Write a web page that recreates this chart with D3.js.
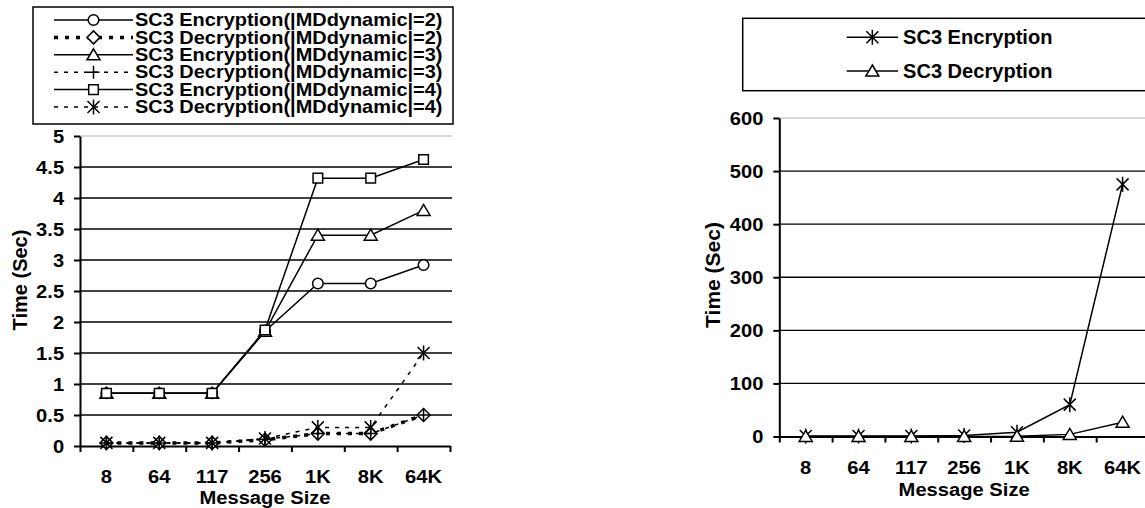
<!DOCTYPE html>
<meta charset="utf-8">
<style type="text/css">
  body { margin: 0; background: #fff; }
  text { font-family: "Liberation Sans", Arial, sans-serif; font-weight: bold; fill: #000; }
  .grid line { stroke: #000; stroke-width: 1.3px; }
  .axis path, .axis line { stroke: #000; stroke-width: 2px; }
</style>
<body>
<script src="https://d3js.org/d3.v7.min.js"></script>
<script>

// message sizes on the x axis (both charts)
var sizes = ["8", "64", "117", "256", "1K", "8K", "64K"];

// left chart, seconds
var enc2 = [0.85, 0.85, 0.85, 1.85, 2.62, 2.62, 2.92];
var dec2 = [0.05, 0.05, 0.05, 0.10, 0.20, 0.20, 0.50];
var enc3 = [0.85, 0.85, 0.85, 1.85, 3.40, 3.40, 3.80];
var dec3 = [0.05, 0.05, 0.05, 0.11, 0.20, 0.20, 0.50];
var enc4 = [0.85, 0.85, 0.85, 1.87, 4.32, 4.32, 4.62];
var dec4 = [0.05, 0.05, 0.05, 0.12, 0.30, 0.30, 1.50];
var leftTicks = [0, 0.5, 1, 1.5, 2, 2.5, 3, 3.5, 4, 4.5, 5];

// right chart, seconds
var encAll = [0.9, 0.9, 0.9, 2, 8, 60, 475];
var decAll = [0.05, 0.05, 0.05, 0.15, 0.5, 4, 27];
var rightTicks = [0, 100, 200, 300, 400, 500, 600];

var width = 1145, height = 508;
var SX = 1.06; // the original picture is stretched sideways a little

var marks = {
  circle: d3.symbol(d3.symbolCircle, 88)(),
  square: "M-4.8,-4.8H4.8V4.8H-4.8Z",
  triangle: "M0,-6L6.5,5L-6.5,5Z",
  diamond: "M0,-6.5L6.5,0L0,6.5L-6.5,0Z",
  plus: "M-6,0H6M0,-6.5V6.5",
  star: "M-6,-6L6,6M-6,6L6,-6M0,-7.5V7.5"
};

var svg = d3.select("body").append("svg")
    .attr("width", width)
    .attr("height", height);

function drawChart(opt) {
  var g = svg.append("g");

  var x = d3.scaleBand().domain(sizes).range(opt.xr);
  var y = d3.scaleLinear().domain(opt.yd).range(opt.yr);
  var edges = d3.scaleLinear().domain([0, sizes.length]).range(opt.xr);

  // gridlines, the top one is grey
  g.append("g").attr("class", "grid")
    .selectAll("line")
    .data(opt.ticks.slice(1))
    .enter().append("line")
      .attr("x1", opt.xr[0]).attr("x2", opt.xr[1] + 2)
      .attr("y1", function(d) { return y(d); })
      .attr("y2", function(d) { return y(d); })
      .style("stroke", function(d, i) { return i == opt.ticks.length - 2 ? "#c8c8c8" : "#000"; });

  // y axis
  var ya = g.append("g").attr("class", "axis")
    .attr("transform", "translate(" + opt.xr[0] + ",0)")
    .call(d3.axisLeft(y).tickValues(opt.ticks).tickFormat(d3.format("~g"))
      .tickSize(6).tickSizeOuter(0).tickPadding(9));
  ya.selectAll("text")
    .style("font-size", "19px")
    .attr("transform", "scale(" + SX + ",1)");

  // x axis line with tick marks between categories
  g.append("g").attr("class", "axis")
    .attr("transform", "translate(0," + opt.yr[0] + ")")
    .call(d3.axisBottom(edges).ticks(sizes.length).tickFormat("").tickSize(6).tickSizeOuter(0));

  var xa = g.append("g").attr("class", "axis")
    .attr("transform", "translate(0," + opt.yr[0] + ")")
    .call(d3.axisBottom(x).tickSize(0).tickPadding(opt.xpad));
  xa.select(".domain").remove();
  xa.selectAll("text")
    .style("font-size", "18px")
    .attr("transform", "scale(1.12,1)");

  // axis titles
  g.append("text")
    .attr("transform", "translate(" + ((opt.xr[0] + opt.xr[1]) / 2) + "," + opt.titleY + ") scale(1.09,1)")
    .attr("text-anchor", "middle")
    .style("font-size", "18.5px")
    .text("Message Size");
  g.append("text")
    .attr("transform", "translate(" + opt.ytitleX + "," + opt.ytitleY + ") rotate(-90)")
    .attr("text-anchor", "middle")
    .style("font-size", opt.ytitleFont + "px")
    .text("Time (Sec)");

  var line = d3.line()
    .x(function(d, i) { return x(sizes[i]) + x.bandwidth() / 2; })
    .y(function(d) { return y(d); });

  opt.series.forEach(function(s) {
    g.append("path")
      .attr("d", line(s.values))
      .attr("fill", "none")
      .attr("stroke", "#000")
      .attr("stroke-width", s.width)
      .attr("stroke-dasharray", s.dash);
    g.selectAll(null)
      .data(s.values)
      .enter().append("path")
        .attr("transform", function(d, i) {
          return "translate(" + (x(sizes[i]) + x.bandwidth() / 2) + "," + y(d) + ")";
        })
        .attr("d", marks[s.mark])
        .attr("fill", "#fff")
        .attr("stroke", "#000")
        .attr("stroke-width", 1.5);
  });

  // legend
  var L = opt.legend;
  g.append("rect")
    .attr("x", L.x).attr("y", L.y)
    .attr("width", L.w).attr("height", L.h)
    .attr("fill", "#fff")
    .attr("stroke", "#000")
    .attr("stroke-width", 1.5);
  opt.series.forEach(function(s, i) {
    var ry = L.row0 + i * L.step;
    g.append("line")
      .attr("x1", L.l1).attr("x2", L.l2)
      .attr("y1", ry).attr("y2", ry)
      .attr("stroke", "#000")
      .attr("stroke-width", s.width)
      .attr("stroke-dasharray", s.dash);
    g.append("path")
      .attr("transform", "translate(" + ((L.l1 + L.l2) / 2) + "," + ry + ")")
      .attr("d", marks[s.mark])
      .attr("fill", "#fff")
      .attr("stroke", "#000")
      .attr("stroke-width", 1.5);
    g.append("text")
      .attr("transform", "translate(" + L.tx + "," + (ry + L.base) + ") scale(" + L.sx + ",1)")
      .style("font-size", L.font + "px")
      .text(s.name);
  });
}

drawChart({
  xr: [80, 450], yr: [446, 136], yd: [0, 5], ticks: leftTicks,
  xpad: 24, titleY: 503.5, ytitleX: 27, ytitleY: 280, ytitleFont: 20,
  series: [
    {name: "SC3 Encryption(|MDdynamic|=2)", values: enc2, mark: "circle", width: 1.5, dash: null},
    {name: "SC3 Decryption(|MDdynamic|=2)", values: dec2, mark: "diamond", width: 3.5, dash: "4,7"},
    {name: "SC3 Encryption(|MDdynamic|=3)", values: enc3, mark: "triangle", width: 1.5, dash: null},
    {name: "SC3 Decryption(|MDdynamic|=3)", values: dec3, mark: "plus", width: 1.5, dash: "4,6"},
    {name: "SC3 Encryption(|MDdynamic|=4)", values: enc4, mark: "square", width: 1.5, dash: null},
    {name: "SC3 Decryption(|MDdynamic|=4)", values: dec4, mark: "star", width: 1.5, dash: "4,6"}
  ],
  legend: {x: 33, y: 7, w: 420, h: 117, row0: 20, step: 17.4,
           l1: 54, l2: 133, tx: 135, base: 6.2, font: 17.5, sx: 1.14}
});

drawChart({
  xr: [779.3, 1149], yr: [436.5, 118], yd: [0, 600], ticks: rightTicks,
  xpad: 24.7, titleY: 496.2, ytitleX: 720, ytitleY: 275, ytitleFont: 21,
  series: [
    {name: "SC3 Encryption", values: encAll, mark: "star", width: 1.5, dash: null},
    {name: "SC3 Decryption", values: decAll, mark: "triangle", width: 1.5, dash: null}
  ],
  legend: {x: 742.7, y: 18.3, w: 420, h: 72.4, row0: 37.3, step: 33.7,
           l1: 846.7, l2: 898, tx: 903, base: 7, font: 19.5, sx: 1.03}
});

</script>
</body>
